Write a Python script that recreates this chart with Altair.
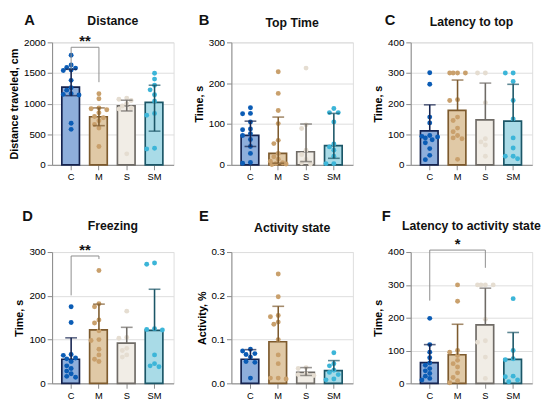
import altair as alt
import pandas as pd

groups = ["C", "M", "S", "SM"]
fill_colors = ["#8eaedb", "#e0c9a6", "#f1ede6", "#a9dbe7"]
stroke_colors = ["#15234f", "#7d5a2d", "#6f6b66", "#1b5667"]
point_colors = ["#0b5cb5", "#c9a06c", "#e5ddd1", "#3cb5d8"]

# ---- Panel A: Distance ----
A_pts = {
    "C": [1790, 1630, 1590, 1580, 1550, 1540, 1380, 1260, 1220, 1160, 1150, 1140, 680, 580],
    "M": [1160, 1080, 930, 915, 900, 850, 790, 770, 720, 660, 600, 300],
    "S": [1090, 1070, 1050, 1000, 960, 930, 910, 180],
    "SM": [1495, 1400, 1300, 1225, 1145, 1040, 840, 810, 270, 258],
}
A_bar = [1270, 785, 965, 1020]
A_hi = [1560, 930, 1055, 1300]
A_lo = [1130, 640, 880, 550]

# ---- Panel B: Top Time ----
B_pts = {
    "C": [140, 126, 125, 105, 88, 86, 76, 72, 62, 45, 28, 6, 4],
    "M": [228, 175, 133, 101, 60, 52, 28, 20, 14, 9, 5, 3, 2, 1],
    "S": [237, 98, 89, 36, 25, 13, 5, 2],
    "SM": [138, 128, 128, 105, 51, 44, 36, 21, 3, 3],
}
B_bar = [72, 28, 32, 47]
B_hi = [107, 117, 100, 126]
B_lo = [45, 4, 8, 16]

# ---- Panel C: Latency to top ----
C_pts = {
    "C": [301, 263, 156, 137, 96, 93, 91, 88, 82, 72, 53, 31, 17],
    "M": [300, 300, 300, 300, 213, 210, 156, 145, 120, 108, 96, 88, 85, 18],
    "S": [300, 300, 203, 85, 75, 65, 28],
    "SM": [300, 300, 272, 210, 150, 88, 55, 28, 28, 20],
}
C_bar = [111, 178, 147, 143]
C_hi = [196, 277, 267, 263]
C_lo = [111, 178, 147, 143]

# ---- Panel D: Freezing ----
D_pts = {
    "C": [175, 139, 66, 64, 58, 56, 50, 40, 34, 28, 22, 16, 14],
    "M": [258, 182, 175, 145, 138, 120, 100, 98, 78, 65, 55, 50],
    "S": [165, 105, 103, 80, 75, 65, 60],
    "SM": [275, 272, 125, 123, 122, 65, 45, 40, 38],
}
D_bar = [55, 122, 92, 121]
D_hi = [104, 181, 128, 215]
D_lo = [55, 122, 92, 121]

# ---- Panel E: Activity state ----
E_pts = {
    "C": [0.078, 0.074, 0.068, 0.066, 0.060, 0.050, 0.048, 0.012],
    "M": [0.250, 0.198, 0.155, 0.152, 0.140, 0.135, 0.100, 0.065, 0.045, 0.012, 0.012, 0.010],
    "S": [0.036, 0.034, 0.022, 0.020, 0.018],
    "SM": [0.070, 0.045, 0.040, 0.030, 0.025, 0.020, 0.010, 0.008],
}
E_bar = [0.055, 0.095, 0.025, 0.029]
E_hi = [0.077, 0.176, 0.036, 0.052]
E_lo = [0.055, 0.095, 0.018, 0.029]

# ---- Panel F: Latency to activity state ----
F_pts = {
    "C": [198, 118, 95, 78, 62, 55, 45, 38, 30, 22, 15, 10],
    "M": [300, 250, 100, 95, 85, 70, 60, 50, 32, 18, 8, 2],
    "S": [300, 300, 300, 300, 195, 130, 125, 80, 15],
    "SM": [258, 100, 75, 72, 22, 20, 10, 5],
}
F_bar = [63, 87, 178, 73]
F_hi = [118, 180, 290, 155]
F_lo = [63, 87, 178, 73]

W = 124
H_TOP = 125
H_BOT = 134
P_IN = 0.33
P_OUT = 0.35
STEP = W / (len(groups) - P_IN + 2 * P_OUT)
BW = STEP * (1 - P_IN)
FONT = "Liberation Sans"
CANDS = [0, -4.5, 4.5, -8, 8, -2.5, 2.5, -6.5, 6.5]


def swarm(vals, ymax, h):
    """Deterministic horizontal spreading so overlapping dots sit side by side."""
    px = h / ymax
    placed = []
    out = []
    for v in sorted(vals, reverse=True):
        yp = v * px
        best_c, best_d = 0, -1.0
        for c in CANDS:
            d = min([((c - pc) ** 2 + (yp - py) ** 2) ** 0.5 for pc, py in placed] or [99.0])
            if d >= 5.0:
                best_c = c
                break
            if d > best_d:
                best_d, best_c = d, c
        placed.append((best_c, yp))
        out.append((v, best_c))
    return out


def xenc(field):
    return alt.X(f"{field}:N", sort=groups,
                 scale=alt.Scale(domain=groups, paddingInner=P_IN, paddingOuter=P_OUT),
                 axis=alt.Axis(title=None, labelAngle=0, labelFontSize=9.5))


def panel(letter, title, ytitle, ymax, ticks, fmt, pts, bar, lo, hi, h,
          bracket=None, lx=-24, ly=-27, ty=-26):
    prow = []
    for gi, g in enumerate(groups):
        for v, off in swarm(pts[g], ymax, h):
            prow.append({"g": g, "v": v, "off": off, "pc": point_colors[gi]})
    pdf = pd.DataFrame(prow)
    bdf = pd.DataFrame({
        "g": groups, "bar": bar, "lo": lo, "hi": hi,
        "fc": fill_colors, "sc": stroke_colors,
    })
    lodf = bdf[bdf["lo"] < bdf["bar"]]

    X = xenc("g")

    def Y(field):
        return alt.Y(f"{field}:Q",
                     scale=alt.Scale(domain=[0, ymax], nice=False, zero=True),
                     axis=alt.Axis(title=ytitle, values=ticks, format=fmt))

    bars = alt.Chart(bdf).mark_bar(strokeWidth=1.7).encode(
        x=X, y=Y("bar"),
        fill=alt.Fill("fc:N", scale=None),
        stroke=alt.Stroke("sc:N", scale=None),
    )
    points = alt.Chart(pdf).mark_circle(size=25, opacity=1).encode(
        x=X, y=Y("v"),
        xOffset=alt.XOffset("off:Q", scale=alt.Scale(domain=[-10, 10],
                                                     range=[BW / 2 - 10, BW / 2 + 10])),
        color=alt.Color("pc:N", scale=None),
    )
    err = alt.Chart(bdf).mark_rule(strokeWidth=1.6).encode(
        x=X, y=Y("lo"), y2="hi:Q",
        stroke=alt.Stroke("sc:N", scale=None),
    )
    cap_hi = alt.Chart(bdf).mark_tick(orient="horizontal", size=12, thickness=1.6).encode(
        x=X, y=Y("hi"), color=alt.Color("sc:N", scale=None),
    )
    layers = [bars, points, err, cap_hi]
    if len(lodf):
        cap_lo = alt.Chart(lodf).mark_tick(orient="horizontal", size=12, thickness=1.6).encode(
            x=X, y=Y("lo"), color=alt.Color("sc:N", scale=None),
        )
        layers.append(cap_lo)

    if bracket is not None:
        g1, g2, ytop, y1, y2, stars = bracket
        segs = pd.DataFrame({
            "x": [g1, g1, g2], "x2": [g2, g1, g2],
            "y": [ytop, ytop, ytop], "y2": [ytop, y1, y2],
        })
        brk = alt.Chart(segs).mark_rule(color="#8c8c8c", strokeWidth=1).encode(
            x=xenc("x"), x2="x2:N", y=Y("y"), y2="y2:Q",
        )
        span = groups.index(g2) - groups.index(g1)
        sdf = pd.DataFrame({"x": [g1], "y": [ytop], "t": [stars]})
        st = alt.Chart(sdf).mark_text(
            font=FONT, fontSize=15, fontWeight="bold", color="#111111",
            dx=STEP * span / 2, dy=-6, baseline="middle", align="center",
        ).encode(x=xenc("x"), y=Y("y"), text="t:N")
        layers += [brk, st]

    ttl = alt.Chart(pd.DataFrame({"t": [title]})).mark_text(
        font=FONT, fontSize=12.5, fontWeight="bold", color="#111111",
        align="center", baseline="middle",
    ).encode(text="t:N", x=alt.value(W / 2), y=alt.value(ty))
    let = alt.Chart(pd.DataFrame({"t": [letter]})).mark_text(
        font=FONT, fontSize=15, fontWeight="bold", color="#111111",
        align="center", baseline="middle",
    ).encode(text="t:N", x=alt.value(lx), y=alt.value(ly))
    layers += [ttl, let]

    return alt.layer(*layers).properties(width=W, height=h)


pA = panel("A", "Distance", "Distance traveled, cm", 2000, [0, 500, 1000, 1500, 2000], "d",
           A_pts, A_bar, A_lo, A_hi, H_TOP, bracket=("C", "M", 1920, 1560, 1350, "**"),
           lx=-23, ly=-23, ty=-22)
pB = panel("B", "Top Time", "Time, s", 300, [0, 100, 200, 300], "d",
           B_pts, B_bar, B_lo, B_hi, H_TOP, lx=-28, ly=-23, ty=-20)
pC = panel("C", "Latency to top", "Time, s", 400, [0, 100, 200, 300, 400], "d",
           C_pts, C_bar, C_lo, C_hi, H_TOP, lx=-21, ly=-23, ty=-21)
pD = panel("D", "Freezing", "Time, s", 300, [0, 100, 200, 300], "d",
           D_pts, D_bar, D_lo, D_hi, H_BOT, bracket=("C", "M", 291, 201, 284, "**"),
           lx=-25, ly=-37, ty=-27)
pE = panel("E", "Activity state", "Activity, %", 0.3, [0.0, 0.1, 0.2, 0.3], ".1f",
           E_pts, E_bar, E_lo, E_hi, H_BOT, lx=-28, ly=-37, ty=-24)
pF = panel("F", "Latency to activity state", "Time, s", 400, [0, 100, 200, 300, 400], "d",
           F_pts, F_bar, F_lo, F_hi, H_BOT, bracket=("C", "S", 406, 252, 352, "*"),
           lx=-25, ly=-37, ty=-27)

chart = alt.concat(
    pA, pB, pC, pD, pE, pF, columns=3,
    spacing={"row": 89, "column": 59}, bounds="flush", align="each",
).properties(
    padding={"left": 0, "top": 0, "right": 0, "bottom": 0},
).configure_view(
    stroke=None,
).configure_axis(
    grid=False,
    domainColor="#111111", domainWidth=1.6,
    tickColor="#111111", tickWidth=1.6, tickSize=4,
    labelFont=FONT, labelFontSize=9, labelFontWeight="bold", labelColor="#111111",
    labelPadding=2,
    titleFont=FONT, titleFontSize=11.5, titleFontWeight="bold", titleColor="#111111",
    titlePadding=3,
).configure(background="white")

chart.save("out.html", embed_options={"renderer": "svg", "actions": False})
